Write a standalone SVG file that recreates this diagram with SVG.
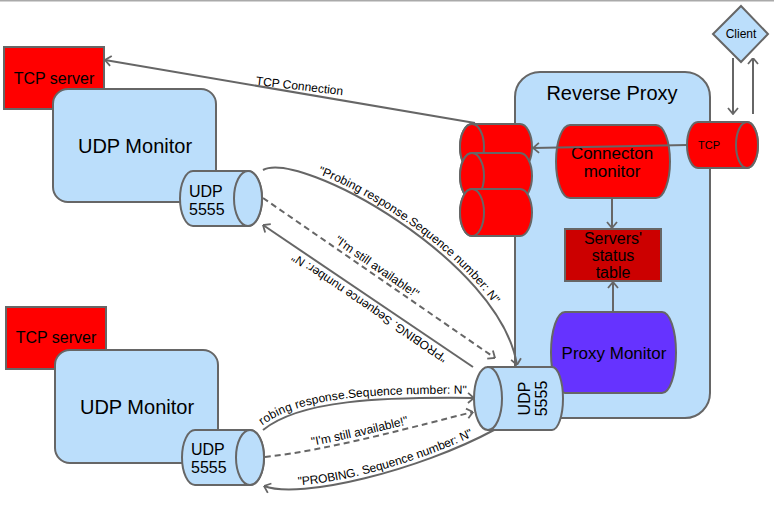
<svg xmlns="http://www.w3.org/2000/svg" width="774" height="511" viewBox="0 0 774 511">
<style>
.s{stroke:#666;stroke-width:2}
.lb{fill:#bbdefb}
.rd{fill:#ff0000}
.dr{fill:#cc0000}
.pu{fill:#6633ff}
text{font-family:"Liberation Sans",Arial,sans-serif;fill:#000}
.c{stroke:#666;stroke-width:2;fill:none}
.d{stroke-dasharray:6,4}
.t12{font-size:12px}
.t16{font-size:16px}
.t17{font-size:17px}
.t20{font-size:20px}
.m{text-anchor:middle}
</style>
<defs>
<marker id="a" viewBox="0 0 10 12" refX="9.5" refY="6" markerWidth="10" markerHeight="12" markerUnits="userSpaceOnUse" orient="auto-start-reverse">
<path d="M3.5,1 L9.5,6 L3.5,11" fill="none" stroke="#666" stroke-width="1.8"/>
</marker>
<path id="p1" d="M263,170 C300,150 500,260 517,365"/>
<path id="p2" d="M263,198 L495,358"/>
<path id="p3" d="M473,367 L263,225"/>
<path id="p4" d="M263,430 C300,400 380,397 474,398"/>
<path id="p5" d="M265,457 C330,450 420,425 473,412"/>
<path id="p6" d="M264,486 C300,500 420,470 494,430"/>
</defs>
<rect width="774" height="511" fill="#fff"/>
<line x1="0" y1="0.75" x2="774" y2="0.75" stroke="#aaa" stroke-width="1.5"/>

<g id="tcp-server-1">
<rect x="4" y="47" width="100" height="62" class="s rd"/>
<text x="54" y="84" class="t16 m">TCP server</text>
</g>
<g id="udp-monitor-1">
<rect x="53" y="89" width="163" height="113" rx="15" class="s lb"/>
<text x="135" y="153" class="t20 m">UDP Monitor</text>
</g>
<g id="udp-port-1">
<path d="M193,171 H248 A14,27.5 0 0 1 248,226 H193 A13,27.5 0 0 1 193,171 Z" class="s lb"/>
<ellipse cx="248" cy="198.5" rx="14" ry="27.5" class="s lb"/>
<text x="189" y="197" class="t16">UDP</text>
<text x="189" y="215" class="t16">5555</text>
</g>

<g id="tcp-server-2">
<rect x="6" y="307" width="100" height="62" class="s rd"/>
<text x="56" y="343" class="t16 m">TCP server</text>
</g>
<g id="udp-monitor-2">
<rect x="55" y="350" width="163" height="113" rx="15" class="s lb"/>
<text x="137" y="414" class="t20 m">UDP Monitor</text>
</g>
<g id="udp-port-2">
<path d="M195,430 H250 A14,27.5 0 0 1 250,485 H195 A13,27.5 0 0 1 195,430 Z" class="s lb"/>
<ellipse cx="250" cy="457.5" rx="14" ry="27.5" class="s lb"/>
<text x="191" y="455" class="t16">UDP</text>
<text x="191" y="473" class="t16">5555</text>
</g>

<g id="reverse-proxy">
<rect x="515" y="72" width="195" height="346" rx="25" class="s lb"/>
<text x="612" y="100" class="t20 m">Reverse Proxy</text>
</g>
<g id="connection-monitor">
<path d="M570,125 H656 A14,36.5 0 0 1 656,198 H570 A14,36.5 0 0 1 570,125 Z" class="s rd"/>
<text x="612" y="159" class="t17 m">Connecton</text>
<text x="612" y="177" class="t17 m">monitor</text>
</g>
<g id="status-table">
<rect x="565" y="229" width="96" height="52" class="s dr"/>
<text x="613" y="244" class="t16 m">Servers'</text>
<text x="613" y="261" class="t16 m">status</text>
<text x="613" y="278" class="t16 m">table</text>
</g>
<g id="proxy-monitor">
<path d="M565,312 H662 A14,40.5 0 0 1 662,393 H565 A14,40.5 0 0 1 565,312 Z" class="s pu"/>
<text x="614" y="359" class="t17 m">Proxy Monitor</text>
</g>
<g id="backend-pool">
<path d="M472,124 H520 A12,23 0 0 1 520,170 H472 A12,23 0 0 1 472,124 Z" class="s rd"/>
<ellipse cx="472" cy="147" rx="12" ry="23" class="s rd"/>
<path d="M472,153 H520 A12,23 0 0 1 520,199 H472 A12,23 0 0 1 472,153 Z" class="s rd"/>
<ellipse cx="472" cy="176" rx="12" ry="23" class="s rd"/>
<path d="M472,189 H520 A12,23.5 0 0 1 520,236 H472 A12,23.5 0 0 1 472,189 Z" class="s rd"/>
<ellipse cx="472" cy="212.5" rx="12" ry="23.5" class="s rd"/>
</g>
<g id="tcp-port">
<path d="M698,122 H747 A11,23 0 0 1 747,168 H698 A11,23 0 0 1 698,122 Z" class="s rd"/>
<ellipse cx="747" cy="145" rx="11" ry="23" class="s rd"/>
<text x="709" y="149" font-size="11" class="m">TCP</text>
</g>
<g id="client">
<path d="M741,6 L768,34 L741,62 L713,34 Z" class="s lb"/>
<text x="741" y="38" class="t12 m">Client</text>
</g>

<g id="connectors">
<line x1="733" y1="58" x2="733" y2="114" class="c" marker-end="url(#a)"/>
<line x1="753" y1="114" x2="753" y2="58" class="c" marker-end="url(#a)"/>
<line x1="687" y1="145" x2="533" y2="148" class="c" marker-end="url(#a)"/>
<line x1="612" y1="198" x2="612" y2="228" class="c" marker-end="url(#a)"/>
<line x1="613" y1="312" x2="613" y2="282" class="c" marker-end="url(#a)"/>
<line x1="475" y1="123" x2="105" y2="60" class="c" marker-end="url(#a)"/>
<text x="299" y="90" class="t12 m" transform="rotate(6.8 299 90)">TCP Connection</text>

<use href="#p1" class="c" marker-end="url(#a)"/>
<use href="#p2" class="c d" marker-end="url(#a)"/>
<use href="#p3" class="c" marker-end="url(#a)"/>
<use href="#p4" class="c" marker-end="url(#a)"/>
<use href="#p5" class="c d" marker-end="url(#a)"/>
<use href="#p6" class="c" marker-start="url(#a)"/>

<text class="t12" dy="-4"><textPath href="#p1" startOffset="165" text-anchor="middle">"Probing response.Sequence number: N"</textPath></text>
<text class="t12" dy="-4"><textPath href="#p2" startOffset="133" text-anchor="middle">"I'm still available!"</textPath></text>
<text class="t12" dy="-5"><textPath href="#p3" startOffset="119" text-anchor="middle">"PROBING. Sequence number: N"</textPath></text>
<text class="t12" dy="-4"><textPath href="#p4" startOffset="2">robing response.Sequence number: N"</textPath></text>
<text class="t12" dy="-4"><textPath href="#p5" startOffset="46%" text-anchor="middle">"I'm still available!"</textPath></text>
<text class="t12" dy="-4"><textPath href="#p6" startOffset="127" text-anchor="middle">"PROBING. Sequence number: N"</textPath></text>
</g>

<g id="udp-port-proxy">
<path d="M488,367 H552 A11,31.5 0 0 1 552,430 H488 Z" class="s lb"/>
<ellipse cx="488" cy="398.5" rx="14" ry="31.5" class="s lb"/>
<text class="t16 m" transform="translate(530,398.5) rotate(-90)">UDP</text>
<text class="t16 m" transform="translate(547,398.5) rotate(-90)">5555</text>
</g>
</svg>
